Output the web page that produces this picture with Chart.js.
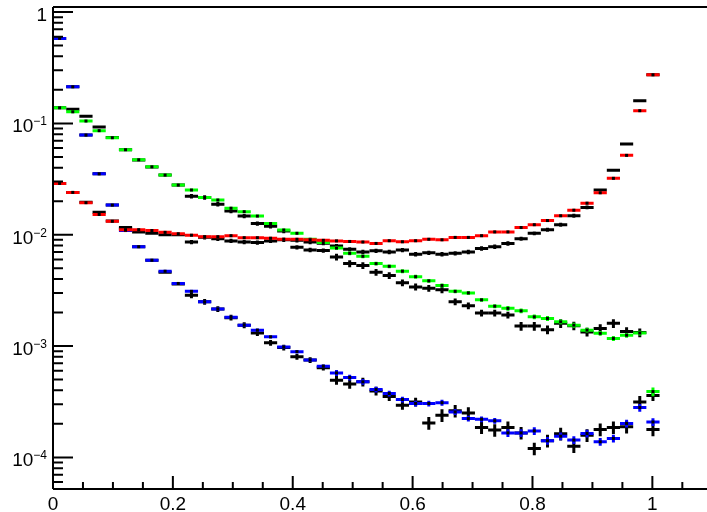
<!DOCTYPE html>
<html lang="en">
<head>
  <meta charset="UTF-8">
  <title>Histograms</title>
  <script src="https://cdn.jsdelivr.net/npm/chart.js"></script>
  <style>
    html, body { margin: 0; padding: 0; background: #fff; overflow: hidden; }
    #wrap { width: 707px; height: 512px; overflow: hidden; }
    canvas { display: block; }
  </style>
</head>
<body>
  <div id="wrap">
    <canvas id="histChart" width="714" height="512"></canvas>
  </div>

  <script>
    // bin centres (50 bins on 0..1.1, only the first 46 are filled)
    const binWidth = 0.022;
    const binCenters = [
      0.011, 0.033, 0.055, 0.077, 0.099, 0.121, 0.143, 0.165, 0.187, 0.209,
      0.231, 0.253, 0.275, 0.297, 0.319, 0.341, 0.363, 0.385, 0.407, 0.429,
      0.451, 0.473, 0.495, 0.517, 0.539, 0.561, 0.583, 0.605, 0.627, 0.649,
      0.671, 0.693, 0.715, 0.737, 0.759, 0.781, 0.803, 0.825, 0.847, 0.869,
      0.891, 0.913, 0.935, 0.957, 0.979, 1.001
    ];

    const redVals = [
      0.0289, 0.024, 0.0194, 0.0152, 0.0132, 0.0111, 0.0111, 0.0109, 0.0105, 0.0102,
      0.0099, 0.0096, 0.0096, 0.0098, 0.0094, 0.0094, 0.0093, 0.0091, 0.0091, 0.0090,
      0.0089, 0.0088, 0.0087, 0.0086, 0.00835, 0.00883, 0.00864, 0.00883, 0.0091, 0.0090,
      0.00946, 0.00946, 0.0098, 0.0106, 0.0106, 0.0116, 0.0123, 0.0134, 0.0148, 0.0166,
      0.0192, 0.0238, 0.0321, 0.0516, 0.130, 0.273
    ];
    const redRefVals = [
      0.0289, 0.024, 0.0196, 0.0159, 0.0133, 0.0114, 0.0106, 0.0103, 0.0100, 0.0100,
      0.0086, 0.0095, 0.0092, 0.0088, 0.0086, 0.0085, 0.0088, 0.0090, 0.0089, 0.0086,
      0.0084, 0.0079, 0.0074, 0.0070, 0.00717, 0.0070, 0.00728, 0.00668, 0.00688, 0.00668,
      0.0068, 0.0070, 0.00753, 0.0078, 0.00835, 0.0092, 0.0103, 0.0111, 0.0123, 0.0148,
      0.0176, 0.0252, 0.038, 0.0652, 0.160, 0.273
    ];
    const greenVals = [
      0.138, 0.127, 0.105, 0.086, 0.0743, 0.058, 0.0471, 0.0407, 0.0343, 0.0279,
      0.0252, 0.0216, 0.0205, 0.0173, 0.0161, 0.0147, 0.0126, 0.0110, 0.0103, 0.0091,
      0.0085, 0.0076, 0.0068, 0.0064, 0.0055, 0.0052, 0.0047, 0.0042, 0.00385, 0.0035,
      0.0031, 0.0030, 0.0026, 0.00228, 0.00218, 0.00207, 0.00183, 0.00177, 0.00165, 0.00154,
      0.00139, 0.0013, 0.00117, 0.00125, 0.00131, 0.00039
    ];
    const greenRefVals = [
      0.138, 0.134, 0.116, 0.093, 0.0745, 0.058, 0.047, 0.0405, 0.0343, 0.0279,
      0.0222, 0.0216, 0.0188, 0.0163, 0.0147, 0.0126, 0.0119, 0.0108, 0.0077, 0.0073,
      0.0072, 0.0063, 0.0055, 0.0053, 0.0046, 0.0043, 0.0037, 0.0034, 0.0033, 0.0032,
      0.0025, 0.0023, 0.00198, 0.00198, 0.0019, 0.00151, 0.00151, 0.0014, 0.0016, 0.00152,
      0.00134, 0.00144, 0.0016, 0.00135, 0.00132, 0.00036
    ];
    const blueVals = [
      0.58, 0.213, 0.0785, 0.0352, 0.01845, 0.0109, 0.0078, 0.0059, 0.0047, 0.00365,
      0.0031, 0.0025, 0.00215, 0.00181, 0.00154, 0.00139, 0.00121, 0.00098, 0.00089, 0.00075,
      0.00066, 0.000574, 0.000522, 0.000477, 0.000407, 0.000375, 0.000331, 0.000305, 0.000305, 0.00031,
      0.000256, 0.000223, 0.00022, 0.000213, 0.000166, 0.000166, 0.000173, 0.000141, 0.000155, 0.000143,
      0.000164, 0.000138, 0.000148, 0.000202, 0.00028, 0.000208
    ];
    const blueRefVals = [
      0.58, 0.213, 0.0785, 0.0352, 0.0185, 0.0116, 0.0078, 0.0059, 0.0046, 0.0036,
      0.00286, 0.0025, 0.00215, 0.0018, 0.00154, 0.00131, 0.00107, 0.00097, 0.0008, 0.00075,
      0.00064, 0.000494, 0.000455, 0.000477, 0.000395, 0.000352, 0.000294, 0.000315, 0.000204, 0.000239,
      0.000262, 0.00025, 0.000186, 0.000176, 0.000186, 0.000166, 0.00012, 0.000141, 0.000163, 0.000126,
      0.000158, 0.000178, 0.000186, 0.000188, 0.000315, 0.000178
    ];

    // relative errors (half length of the vertical bar)
    const redErr = [
      0.01, 0.01, 0.01, 0.01, 0.01, 0.01, 0.01, 0.01, 0.01, 0.01,
      0.01, 0.01, 0.01, 0.01, 0.01, 0.01, 0.01, 0.01, 0.01, 0.01,
      0.01, 0.01, 0.01, 0.01, 0.01, 0.01, 0.01, 0.01, 0.01, 0.01,
      0.01, 0.01, 0.01, 0.01, 0.01, 0.01, 0.01, 0.01, 0.01, 0.01,
      0.01, 0.01, 0.01, 0.01, 0.01, 0.01
    ];
    const redRefErr = [
      0.02, 0.02, 0.02, 0.02, 0.02, 0.02, 0.02, 0.02, 0.02, 0.02,
      0.045, 0.045, 0.045, 0.045, 0.045, 0.045, 0.045, 0.045, 0.045, 0.045,
      0.045, 0.045, 0.045, 0.045, 0.045, 0.045, 0.045, 0.045, 0.045, 0.045,
      0.045, 0.045, 0.045, 0.045, 0.045, 0.04, 0.04, 0.04, 0.04, 0.04,
      0.04, 0.02, 0.02, 0.02, 0.02, 0.02
    ];
    const greenErr = [
      0.015, 0.015, 0.015, 0.015, 0.015, 0.015, 0.015, 0.015, 0.015, 0.015,
      0.015, 0.015, 0.015, 0.015, 0.015, 0.015, 0.015, 0.015, 0.015, 0.015,
      0.015, 0.04, 0.04, 0.04, 0.04, 0.04, 0.04, 0.04, 0.04, 0.04,
      0.04, 0.04, 0.04, 0.04, 0.05, 0.05, 0.05, 0.05, 0.05, 0.05,
      0.05, 0.05, 0.05, 0.05, 0.05, 0.09
    ];
    const greenRefErr = [
      0.02, 0.02, 0.02, 0.02, 0.02, 0.02, 0.02, 0.02, 0.02, 0.02,
      0.045, 0.045, 0.045, 0.045, 0.045, 0.045, 0.045, 0.045, 0.045, 0.045,
      0.045, 0.07, 0.07, 0.07, 0.07, 0.07, 0.07, 0.07, 0.07, 0.07,
      0.07, 0.07, 0.07, 0.07, 0.07, 0.09, 0.09, 0.09, 0.09, 0.09,
      0.09, 0.09, 0.09, 0.09, 0.09, 0.11
    ];
    const blueErr = [
      0.015, 0.015, 0.015, 0.015, 0.015, 0.015, 0.015, 0.015, 0.015, 0.015,
      0.035, 0.035, 0.035, 0.035, 0.035, 0.035, 0.035, 0.035, 0.035, 0.035,
      0.035, 0.06, 0.06, 0.06, 0.06, 0.06, 0.06, 0.06, 0.06, 0.06,
      0.06, 0.06, 0.06, 0.06, 0.08, 0.08, 0.08, 0.08, 0.08, 0.08,
      0.08, 0.08, 0.08, 0.08, 0.08, 0.08
    ];
    const blueRefErr = [
      0.025, 0.025, 0.025, 0.025, 0.025, 0.025, 0.025, 0.025, 0.025, 0.025,
      0.06, 0.06, 0.06, 0.06, 0.06, 0.06, 0.06, 0.06, 0.06, 0.06,
      0.06, 0.09, 0.09, 0.09, 0.09, 0.09, 0.09, 0.09, 0.13, 0.13,
      0.13, 0.13, 0.13, 0.13, 0.13, 0.13, 0.13, 0.13, 0.13, 0.13,
      0.13, 0.13, 0.13, 0.13, 0.13, 0.13
    ];

    // axis ticks and labels
    const xMajorTicks = [0, 0.2, 0.4, 0.6, 0.8, 1];
    const xTickLabels = ['0', '0.2', '0.4', '0.6', '0.8', '1'];
    const xMinorTicks = [0.05, 0.1, 0.15, 0.25, 0.3, 0.35, 0.45, 0.5, 0.55, 0.65, 0.7, 0.75, 0.85, 0.9, 0.95, 1.05];
    const yMajorTicks = [1, 0.1, 0.01, 0.001, 0.0001];
    const yTickBase = ['1', '10', '10', '10', '10'];
    const yTickSup = ['', '\u22121', '\u22122', '\u22123', '\u22124'];
    const yMinorMult = [2, 3, 4, 5, 6, 7, 8, 9];
    const yDecades = [1e-5, 1e-4, 1e-3, 1e-2, 1e-1];

    function toPoints(vals) {
      return binCenters.map((x, i) => ({ x: x, y: vals[i] }));
    }

    // draws each bin as a horizontal bar (bin width) plus a vertical error bar
    const histBars = {
      id: 'histBars',
      afterDatasetsDraw(chart) {
        const { ctx, chartArea } = chart;
        const xs = chart.scales.x, ys = chart.scales.y;
        ctx.save();
        ctx.beginPath();
        ctx.rect(chartArea.left, chartArea.top, chartArea.right - chartArea.left, chartArea.bottom - chartArea.top);
        ctx.clip();
        ctx.lineCap = 'butt';
        chart.data.datasets.forEach(ds => {
          ctx.strokeStyle = ds.borderColor;
          ctx.lineWidth = 3;
          ds.data.forEach((p, i) => {
            const yc = ys.getPixelForValue(p.y);
            const xc = xs.getPixelForValue(p.x);
            const x0 = xs.getPixelForValue(p.x - binWidth / 2);
            const x1 = xs.getPixelForValue(p.x + binWidth / 2);
            const e = ds.errors[i];
            ctx.beginPath();
            ctx.moveTo(x0, yc);
            ctx.lineTo(x1, yc);
            ctx.moveTo(xc, ys.getPixelForValue(p.y * (1 - e)));
            ctx.lineTo(xc, ys.getPixelForValue(p.y * (1 + e)));
            ctx.stroke();
            if (ds.dotMarker) {
              ctx.fillStyle = '#000';
              ctx.fillRect(xc - 1.5, yc - 1.5, 3, 3);
            }
          });
        });
        ctx.restore();
      }
    };

    // ROOT-like frame: ticks pointing inwards, labels outside
    const rootFrame = {
      id: 'rootFrame',
      afterDraw(chart) {
        const { ctx, chartArea } = chart;
        const xs = chart.scales.x, ys = chart.scales.y;
        const L = chartArea.left, R = chartArea.right, T = chartArea.top, B = chartArea.bottom;
        ctx.save();
        ctx.strokeStyle = '#000';
        ctx.lineWidth = 2;
        ctx.beginPath();
        ctx.moveTo(L, T); ctx.lineTo(R, T);
        ctx.moveTo(L, T); ctx.lineTo(L, B);
        ctx.moveTo(L, B); ctx.lineTo(R, B);
        ctx.moveTo(R, T); ctx.lineTo(R, B);
        ctx.stroke();

        // y ticks
        ctx.beginPath();
        yMajorTicks.forEach(v => {
          const py = ys.getPixelForValue(v);
          ctx.moveTo(L, py); ctx.lineTo(L + 20, py);
        });
        yDecades.forEach(d => {
          yMinorMult.forEach(m => {
            const v = d * m;
            if (v < ys.min || v > ys.max) return;
            const py = ys.getPixelForValue(v);
            ctx.moveTo(L, py); ctx.lineTo(L + 10, py);
          });
        });
        // x ticks
        xMajorTicks.forEach(v => {
          const px = xs.getPixelForValue(v);
          ctx.moveTo(px, B); ctx.lineTo(px, B - 13);
        });
        xMinorTicks.forEach(v => {
          const px = xs.getPixelForValue(v);
          ctx.moveTo(px, B); ctx.lineTo(px, B - 7);
        });
        ctx.stroke();

        // labels
        ctx.fillStyle = '#000';
        ctx.textAlign = 'center';
        ctx.textBaseline = 'alphabetic';
        ctx.font = '19px "Liberation Sans", Arial, sans-serif';
        xMajorTicks.forEach((v, i) => {
          ctx.fillText(xTickLabels[i], xs.getPixelForValue(v), 510);
        });

        ctx.textAlign = 'right';
        const labelRight = L - 6;
        yMajorTicks.forEach((v, i) => {
          const py = ys.getPixelForValue(v);
          if (yTickSup[i] === '') {
            ctx.font = '19px "Liberation Sans", Arial, sans-serif';
            ctx.fillText(yTickBase[i], labelRight, py + 9);
          } else {
            ctx.font = '12px "Liberation Sans", Arial, sans-serif';
            const w = ctx.measureText(yTickSup[i]).width;
            ctx.fillText(yTickSup[i], labelRight, py + 2);
            ctx.font = '19px "Liberation Sans", Arial, sans-serif';
            ctx.fillText(yTickBase[i], labelRight - w, py + 9);
          }
        });
        ctx.restore();
      }
    };

    const ctx = document.getElementById('histChart').getContext('2d');
    const myChart = new Chart(ctx, {
      type: 'scatter',
      data: {
        // black reference histograms first, coloured ones drawn on top
        datasets: [
          { label: 'red ref', data: toPoints(redRefVals), errors: redRefErr, borderColor: '#000000', pointRadius: 0 },
          { label: 'green ref', data: toPoints(greenRefVals), errors: greenRefErr, borderColor: '#000000', pointRadius: 0 },
          { label: 'blue ref', data: toPoints(blueRefVals), errors: blueRefErr, borderColor: '#000000', pointRadius: 0 },
          { label: 'green', data: toPoints(greenVals), errors: greenErr, borderColor: '#00ff00', dotMarker: true, pointRadius: 0 },
          { label: 'blue', data: toPoints(blueVals), errors: blueErr, borderColor: '#0000ff', dotMarker: true, pointRadius: 0 },
          { label: 'red', data: toPoints(redVals), errors: redErr, borderColor: '#ff0000', dotMarker: true, pointRadius: 0 }
        ]
      },
      options: {
        responsive: false,
        animation: false,
        devicePixelRatio: 1,
        layout: { padding: { left: 53, top: 7, right: 1.7, bottom: 23 } },
        plugins: { legend: { display: false }, tooltip: { enabled: false } },
        scales: {
          x: { type: 'linear', min: 0, max: 1.1, display: false },
          y: { type: 'logarithmic', min: 5.2e-5, max: 1.11, display: false }
        }
      },
      plugins: [histBars, rootFrame]
    });
  </script>
</body>
</html>
